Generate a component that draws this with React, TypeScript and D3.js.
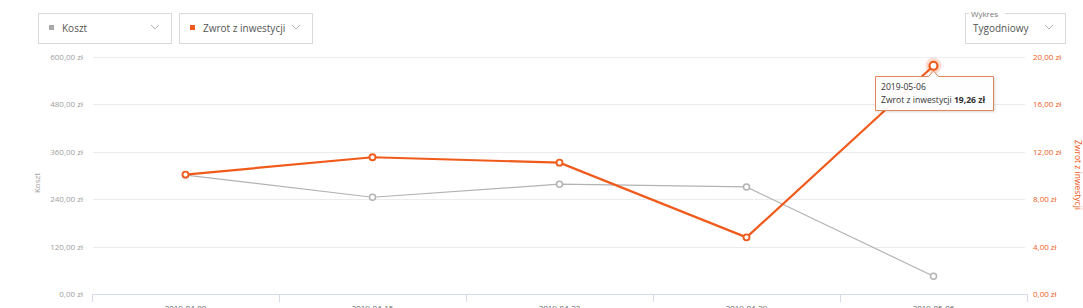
import React from 'react';
import * as d3 from 'd3';

const categories = ['2019-04-08', '2019-04-15', '2019-04-22', '2019-04-29', '2019-05-06'];
const kosztValues = [301, 245, 278, 271, 45];
const zwrotValues = [10.08, 11.54, 11.08, 4.78, 19.26];
const leftTicks = [0, 120, 240, 360, 480, 600];
const rightTicks = [0, 4, 8, 12, 16, 20];

const ORANGE = '#f05a1a';
const GRAY = '#b3b3b3';
const FONT = '"Open Sans", "Noto Sans", Arial, sans-serif';

const fmt = (v: number) => v.toFixed(2).replace('.', ',') + ' zł';

function Dropdown({ x, y, w, h, label, marker }: { x: number; y: number; w: number; h: number; label: string; marker?: string }) {
  return (
    <g>
      <rect x={x + 0.5} y={y + 0.5} width={w} height={h} fill="#fff" stroke="#d9d9d9" />
      {marker && <rect x={x + 11} y={y + 12} width={5} height={5} fill={marker} />}
      <text x={x + (marker ? 24 : 8)} y={y + 19} fontSize={10} fill="#555" fontFamily={FONT}>{label}</text>
      <path d={`M${x + w - 20},${y + 12} l4,4 l4,-4`} fill="none" stroke="#aaa" strokeWidth={0.9} />
    </g>
  );
}

export default function App() {
  const W = 1083, H = 308;
  const x0 = 92, x1 = 1027;
  const yTop = 57, yBot = 294;
  const xScale = d3.scaleBand<string>().domain(categories).range([x0, x1]);
  const yL = d3.scaleLinear().domain([0, 600]).range([yBot, yTop]);
  const yR = d3.scaleLinear().domain([0, 20]).range([yBot, yTop]);
  const cx = (c: string) => (xScale(c) as number) + xScale.bandwidth() / 2;

  const kosztLine = d3.line<number>().x((_, i) => cx(categories[i])).y(d => yL(d));
  const zwrotLine = d3.line<number>().x((_, i) => cx(categories[i])).y(d => yR(d));

  const lastI = categories.length - 1;
  const hx = cx(categories[lastI]);
  const hy = yR(zwrotValues[lastI]);
  const tipX = 875, tipY = 76, tipW = 118, tipH = 34;

  return (
    <svg width={W} height={H} style={{ position: 'absolute', left: 0, top: 0, background: '#fff' }} fontFamily={FONT}>
      <rect x={0} y={0} width={W} height={H} fill="#fff" />
      {/* grid */}
      {leftTicks.map(t => (
        <line key={t} x1={x0 + 1} x2={x1 - 2} y1={Math.round(yL(t)) + 0.5} y2={Math.round(yL(t)) + 0.5} stroke="#ececec" strokeWidth={1} />
      ))}
      {/* x axis */}
      <line x1={x0} x2={x1} y1={yBot + 0.5} y2={yBot + 0.5} stroke="#d5dbe8" />
      {[...categories.map(c => xScale(c) as number), x1].map((t, i) => (
        <line key={i} x1={Math.round(t) + 0.5} x2={Math.round(t) + 0.5} y1={yBot} y2={yBot + 8} stroke="#d5dbe8" />
      ))}
      {categories.map(c => (
        <text key={c} x={cx(c)} y={311} textAnchor="middle" fontSize={8} fill="#666">{c}</text>
      ))}
      {/* left axis labels */}
      {leftTicks.map(t => (
        <text key={t} x={83} y={yL(t) + 3} textAnchor="end" fontSize={8} fill="#a0a0a0">{fmt(t)}</text>
      ))}
      <text transform={`translate(40,183) rotate(-90)`} textAnchor="middle" fontSize={8} fill="#a0a0a0">Koszt</text>
      {/* right axis labels */}
      {rightTicks.map(t => (
        <text key={t} x={1033} y={yR(t) + 3} textAnchor="start" fontSize={8} fill={ORANGE}>{fmt(t)}</text>
      ))}
      <text transform={`translate(1075,175) rotate(90)`} textAnchor="middle" fontSize={8.5} fill={ORANGE}>Zwrot z inwestycji</text>
      {/* series */}
      <path d={kosztLine(kosztValues) || ''} fill="none" stroke={GRAY} strokeWidth={1.2} />
      {kosztValues.map((v, i) => (
        <circle key={i} cx={cx(categories[i])} cy={yL(v)} r={3} fill="#fff" stroke={GRAY} strokeWidth={1.5} />
      ))}
      <path d={zwrotLine(zwrotValues) || ''} fill="none" stroke={ORANGE} strokeWidth={2.2} />
      {zwrotValues.map((v, i) => (
        i === lastI ? null : <circle key={i} cx={cx(categories[i])} cy={yR(v)} r={3} fill="#fff" stroke={ORANGE} strokeWidth={1.8} />
      ))}
      <circle cx={hx} cy={hy} r={8} fill={ORANGE} opacity={0.2} />
      <circle cx={hx} cy={hy} r={4} fill="#fff" stroke={ORANGE} strokeWidth={2.2} />
      {/* tooltip */}
      <path
        d={`M${tipX + 0.5},${tipY + 0.5} H${hx - 5} L${hx},${tipY - 5} L${hx + 5},${tipY + 0.5} H${tipX + tipW + 0.5} V${tipY + tipH + 0.5} H${tipX + 0.5} Z`}
        fill="#fff" fillOpacity={0.95} stroke="#e0875a" strokeWidth={1}
        style={{ filter: 'drop-shadow(1px 1px 1px rgba(0,0,0,0.15))' }}
      />
      <text x={tipX + 6} y={tipY + 14} fontSize={8.6} fill="#333">2019-05-06</text>
      <text x={tipX + 6} y={tipY + 27} fontSize={8.6} fill="#333">
        Zwrot z inwestycji <tspan fontWeight="bold">19,26 zł</tspan>
      </text>
      {/* dropdowns */}
      <Dropdown x={38} y={13} w={133} h={30} label="Koszt" marker="#aaaaaa" />
      <Dropdown x={179} y={13} w={133} h={30} label="Zwrot z inwestycji" marker={ORANGE} />
      <Dropdown x={965} y={13} w={100} h={30} label="Tygodniowy" />
      <rect x={969} y={9} width={36} height={8} fill="#fff" />
      <text x={971} y={17} fontSize={8} fill="#777">Wykres</text>
    </svg>
  );
}
